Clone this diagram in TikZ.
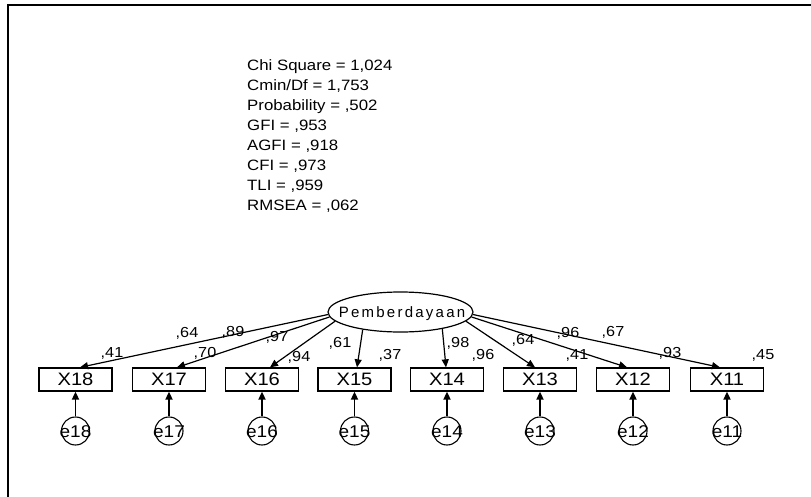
\documentclass[tikz,border=0pt]{standalone}
\usepackage{fontspec}
\setmainfont{Liberation Sans}
\newfontfamily\amos[FakeStretch=1.12]{Liberation Sans}
\newfontfamily\amosls[LetterSpace=15]{Liberation Sans}
\usetikzlibrary{shapes.geometric,arrows.meta}
\begin{document}
\begin{tikzpicture}[x=1pt,y=-1pt,
  fitline/.style={font=\amos\fontsize{15}{18}\selectfont,anchor=base west,inner sep=0},
  est/.style={font=\amos\fontsize{14.5}{16}\selectfont,inner sep=0},
  obs/.style={draw,rectangle,minimum width=73pt,minimum height=23pt,inner sep=0,line width=1.3pt,font=\amos\fontsize{18}{20}\selectfont},
  err/.style={draw,circle,minimum size=28pt,inner sep=0,line width=1.1pt},
  errtxt/.style={font=\amos\fontsize{17}{19}\selectfont,inner sep=0},
  arr/.style={-{Triangle[length=8pt,width=7pt]},line width=1.2pt},
  earr/.style={-{Triangle[length=8pt,width=7pt]},line width=1.8pt}]
\useasboundingbox (0,0) rectangle (811,497);
\fill[white] (0,0) rectangle (811,497);
% frame
\draw[line width=2pt] (8,497) -- (8,5) -- (811,5);

% fit statistics
\node[fitline] (t1) at (247,70.5) {Chi Square = 1,024};
\node[fitline] (t2) at (247,90.5) {Cmin/Df = 1,753};
\node[fitline] (t3) at (247,110.5) {Probability = ,502};
\node[fitline] (t4) at (247,130.5) {GFI = ,953};
\node[fitline] (t5) at (247,150.5) {AGFI = ,918};
\node[fitline] (t6) at (247,170.5) {CFI = ,973};
\node[fitline] (t7) at (247,190.5) {TLI = ,959};
\node[fitline] (t8) at (247,210.5) {RMSEA = ,062};

% latent
\node[draw,ellipse,minimum width=145pt,minimum height=40pt,inner sep=0,line width=1.2pt] (P) at (400.5,312) {};
\node[font=\amosls\fontsize{15}{18}\selectfont,inner sep=0] (Pt) at (402,314) {Pemberdayaan};

% observed
\node[obs] (X18) at (75.5,379.5) {X18};
\node[obs] (X17) at (169,379.5) {X17};
\node[obs] (X16) at (262,379.5) {X16};
\node[obs] (X15) at (354.5,379.5) {X15};
\node[obs] (X14) at (447,379.5) {X14};
\node[obs] (X13) at (540,379.5) {X13};
\node[obs] (X12) at (633,379.5) {X12};
\node[obs] (X11) at (727,379.5) {X11};

% errors
\foreach \n/\x in {18/75.5,17/169,16/262,15/354.5,14/447,13/540,12/633,11/727}{
  \node[err] (e\n) at (\x,431) {};
  \node[errtxt] (et\n) at (\x,432) {e\n};
  \draw[earr] (e\n) -- (X\n);
}

% loadings
\draw[arr] (P.182) -- ([xshift=4.5pt]X18.north);
\draw[arr] (P.184) -- ([xshift=8pt]X17.north);
\draw[arr] (P.188) -- ([xshift=8pt]X16.north);
\draw[arr] (P.205) -- ([xshift=2.5pt]X15.north);
\draw[arr] (P.338) -- ([xshift=-1pt]X14.north);
\draw[arr] (P.352) -- ([xshift=-5pt]X13.north);
\draw[arr] (P.356) -- ([xshift=-6pt]X12.north);
\draw[arr] (P.358) -- ([xshift=-7pt]X11.north);

% loading estimates
\node[est] (l18) at (187,333) {,64};
\node[est] (l17) at (233,332) {,89};
\node[est] (l16) at (277,337) {,97};
\node[est] (l15) at (340,343) {,61};
\node[est] (l14) at (458,343) {,98};
\node[est] (l13) at (523,340) {,64};
\node[est] (l12) at (568,333) {,96};
\node[est] (l11) at (613,332) {,67};

% squared multiple correlations
\node[est] (r18) at (112,353) {,41};
\node[est] (r17) at (205,353) {,70};
\node[est] (r16) at (299,357) {,94};
\node[est] (r15) at (390,355) {,37};
\node[est] (r14) at (483,355) {,96};
\node[est] (r13) at (577,355) {,41};
\node[est] (r12) at (670,353) {,93};
\node[est] (r11) at (763,355) {,45};
\end{tikzpicture}
\end{document}
